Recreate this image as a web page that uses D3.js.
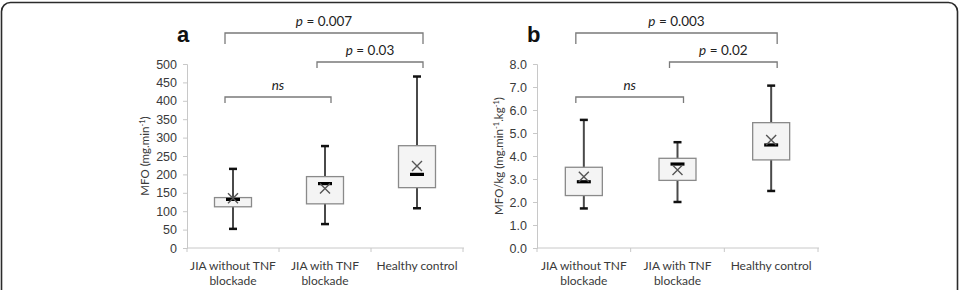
<!DOCTYPE html>
<html>
<head>
<meta charset="utf-8">
<script src="https://cdn.jsdelivr.net/npm/d3@7"></script>
<style>
  body { margin: 0; background: #fff; }
  svg { display: block; font-family: Lato, "Open Sans", sans-serif; }
</style>
</head>
<body>
<div id="chart"></div>
<script>
const width = 963
const height = 290

/* Groups */
const categories = ['JIA without TNF blockade', 'JIA with TNF blockade', 'Healthy control']
const categoryLines = [['JIA without TNF', 'blockade'], ['JIA with TNF', 'blockade'], ['Healthy control']]

/* Panel a: MFO (mg.min-1) */
const mfoMin = [52, 65, 108]
const mfoQ1 = [112, 120, 164]
const mfoMedian = [132, 175, 200]
const mfoQ3 = [137, 194, 278]
const mfoMax = [215, 277, 466]
const mfoMean = [135, 162, 223]
const mfoTicks = [0, 50, 100, 150, 200, 250, 300, 350, 400, 450, 500]

/* Panel b: MFO/kg (mg.min-1.kg-1) */
const kgMin = [1.72, 2.0, 2.48]
const kgQ1 = [2.28, 2.94, 3.83]
const kgMedian = [2.88, 3.65, 4.48]
const kgQ3 = [3.51, 3.9, 5.45]
const kgMax = [5.57, 4.6, 7.06]
const kgMean = [3.1, 3.39, 4.7]
const kgTicks = [0, 1, 2, 3, 4, 5, 6, 7, 8]

/* Comparisons: [from, to, label] */
const mfoTests = [[0, 1, 'ns'], [1, 2, '0.03'], [0, 2, '0.007']]
const kgTests = [[0, 1, 'ns'], [1, 2, '0.02'], [0, 2, '0.003']]

const svg = d3.select('#chart').append('svg').attr('width', width).attr('height', height)

/* outer frame */
svg.append('rect')
    .attr('x', 1.5).attr('y', 2.5)
    .attr('width', 956).attr('height', 320)
    .attr('rx', 9)
    .attr('fill', 'none')
    .attr('stroke', '#2b2b2b')
    .attr('stroke-width', 1.6)

function rows(mins, q1s, meds, q3s, maxs, means) {
    return categories.map((c, i) => ({
        cat: c, lines: categoryLines[i],
        min: mins[i], q1: q1s[i], med: meds[i], q3: q3s[i], max: maxs[i], mean: means[i]
    }))
}

function panel(opt) {
    const g = svg.append('g')
    const data = opt.data
    const x = d3.scaleBand().domain(categories).range([opt.x0, opt.x1])
    const y = d3.scaleLinear().domain([0, opt.top]).range([248, 64])
    const cx = d => x(d) + x.bandwidth() / 2
    const boxW = 37

    /* y axis */
    const ya = g.append('g')
        .attr('transform', `translate(${opt.x0},0)`)
        .call(d3.axisLeft(y).tickValues(opt.ticks).tickFormat(opt.fmt).tickSize(4).tickPadding(6))
    ya.select('.domain').attr('stroke', '#c8c8c8')
    ya.selectAll('.tick line').attr('stroke', '#c8c8c8')
    ya.selectAll('.tick text').attr('fill', '#3a3a3a').attr('font-size', 12.5)

    /* x axis */
    const xa = g.append('g')
        .attr('transform', 'translate(0,248)')
    xa.append('line').attr('x1', opt.x0).attr('x2', opt.x1 + 1).attr('stroke', '#c8c8c8')
    xa.selectAll('line.div')
        .data([...categories.map(c => x(c)), opt.x1])
        .join('line')
        .attr('class', 'div')
        .attr('x1', d => d).attr('x2', d => d)
        .attr('y1', 0).attr('y2', 4)
        .attr('stroke', '#c8c8c8')
    xa.selectAll('text.cat')
        .data(data)
        .join('text')
        .attr('class', 'cat')
        .attr('x', d => cx(d.cat))
        .attr('text-anchor', 'middle')
        .attr('fill', '#3a3a3a')
        .attr('font-size', 12)
        .selectAll('tspan')
        .data(d => d.lines)
        .join('tspan')
        .attr('x', function () { return d3.select(this.parentNode).attr('x') })
        .attr('y', (d, i) => 22 + i * 15)
        .text(d => d)

    /* boxes */
    const box = g.selectAll('g.box').data(data).join('g').attr('class', 'box')
    box.append('line')
        .attr('x1', d => cx(d.cat)).attr('x2', d => cx(d.cat))
        .attr('y1', d => y(d.max)).attr('y2', d => y(d.min))
        .attr('stroke', '#4a4a4a').attr('stroke-width', 2)
    box.append('rect')
        .attr('x', d => cx(d.cat) - boxW / 2)
        .attr('y', d => y(d.q3))
        .attr('width', boxW)
        .attr('height', d => y(d.q1) - y(d.q3))
        .attr('fill', '#f4f4f4')
        .attr('stroke', '#8a8a8a').attr('stroke-width', 1.3)
    box.selectAll('line.cap')
        .data(d => [[d.cat, d.max], [d.cat, d.min]])
        .join('line')
        .attr('class', 'cap')
        .attr('x1', d => cx(d[0]) - 4).attr('x2', d => cx(d[0]) + 4)
        .attr('y1', d => y(d[1])).attr('y2', d => y(d[1]))
        .attr('stroke', '#111').attr('stroke-width', 2.5)
    box.append('line')
        .attr('x1', d => cx(d.cat) - 7).attr('x2', d => cx(d.cat) + 7)
        .attr('y1', d => y(d.med)).attr('y2', d => y(d.med))
        .attr('stroke', '#000').attr('stroke-width', 3.2)
    box.append('path')
        .attr('transform', d => `translate(${cx(d.cat)},${y(d.mean)})`)
        .attr('d', 'M-5,-5L5,5M-5,5L5,-5')
        .attr('stroke', '#555').attr('stroke-width', 1.4)

    /* significance brackets */
    const levels = [97, 62, 33]
    const drops = [6, 6, 11]
    opt.tests.forEach((t, i) => {
        const xl = cx(categories[t[0]]) - 8
        const xr = cx(categories[t[1]]) + 6
        const yy = levels[i]
        g.append('path')
            .attr('d', `M${xl},${yy + drops[i]}V${yy}H${xr}V${yy + drops[i]}`)
            .attr('fill', 'none')
            .attr('stroke', '#7a7a7a').attr('stroke-width', 1.3)
        const txt = g.append('text')
            .attr('x', (xl + xr) / 2)
            .attr('y', yy - 7)
            .attr('text-anchor', 'middle')
            .attr('font-size', 13.5)
            .attr('fill', '#222')
        if (t[2] === 'ns') {
            txt.append('tspan').attr('font-style', 'italic').text('ns')
        } else {
            txt.append('tspan').attr('font-style', 'italic').text('p')
            txt.append('tspan').text(' = ' + t[2])
        }
    })

    /* y axis title */
    const title = g.append('text')
        .attr('transform', `translate(${opt.titleX},156) rotate(-90)`)
        .attr('text-anchor', 'middle')
        .attr('font-size', 11.5)
        .attr('fill', '#3a3a3a')
    opt.title.forEach(p => {
        const s = title.append('tspan').text(p[0])
        if (p[1]) s.attr('baseline-shift', 'super').attr('font-size', 7.5)
    })

    /* panel letter */
    g.append('text')
        .attr('x', opt.letterX).attr('y', 42)
        .attr('font-size', 22).attr('font-weight', 'bold')
        .attr('font-family', 'Arial, "Liberation Sans", sans-serif')
        .attr('fill', '#111')
        .text(opt.letter)
}

panel({
    data: rows(mfoMin, mfoQ1, mfoMedian, mfoQ3, mfoMax, mfoMean),
    x0: 187, x1: 463, top: 500, ticks: mfoTicks, fmt: d3.format('d'),
    tests: mfoTests, titleX: 149, letter: 'a', letterX: 177,
    title: [['MFO (mg.min'], ['-1', true], [')']]
})

panel({
    data: rows(kgMin, kgQ1, kgMedian, kgQ3, kgMax, kgMean),
    x0: 537, x1: 818, top: 8, ticks: kgTicks, fmt: d3.format('.1f'),
    tests: kgTests, titleX: 503, letter: 'b', letterX: 527,
    title: [['MFO/kg (mg.min'], ['-1', true], ['.kg'], ['-1', true], [')']]
})
</script>
</body>
</html>
